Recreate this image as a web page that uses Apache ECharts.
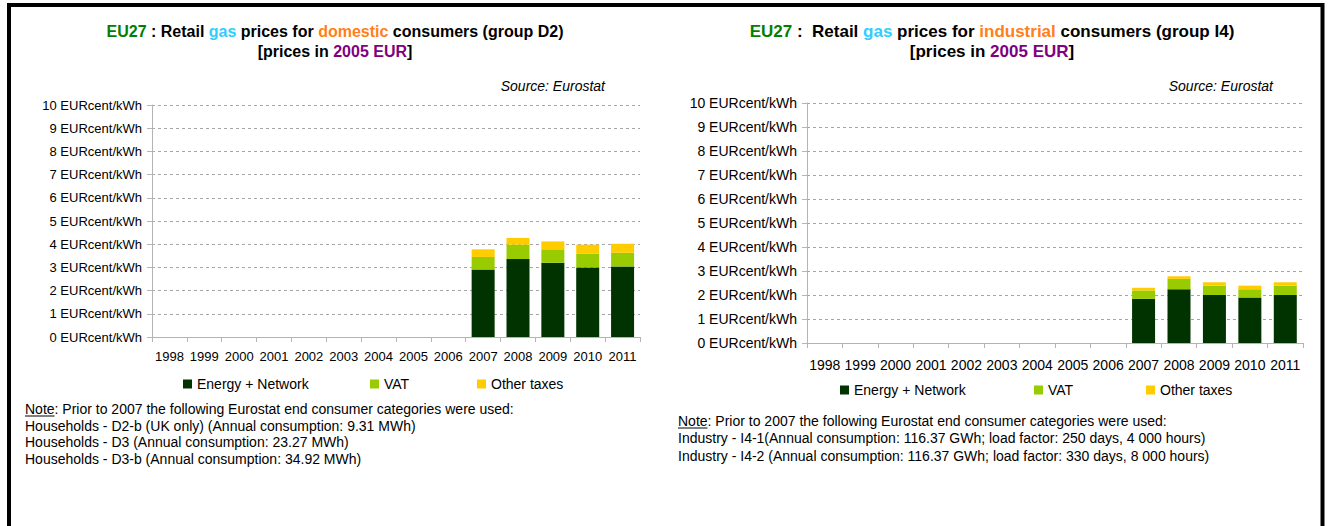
<!DOCTYPE html>
<html>
<head>
<meta charset="utf-8">
<script src="https://cdn.jsdelivr.net/npm/echarts@6/dist/echarts.min.js"></script>
<style>
  html, body { margin: 0; padding: 0; background: #fff; }
  #chart { width: 1330px; height: 526px; }
</style>
</head>
<body>
<div id="chart"></div>
<script>
// Years on the category axis
const years = ['1998', '1999', '2000', '2001', '2002', '2003', '2004', '2005', '2006', '2007', '2008', '2009', '2010', '2011'];

// Domestic consumers (group D2), EURcent/kWh in 2005 EUR
const domEnergy = [null, null, null, null, null, null, null, null, null, 2.91, 3.36, 3.20, 3.00, 3.04];
const domVat    = [null, null, null, null, null, null, null, null, null, 0.54, 0.62, 0.58, 0.60, 0.59];
const domOther  = [null, null, null, null, null, null, null, null, null, 0.33, 0.29, 0.34, 0.38, 0.39];

// Industrial consumers (group I4), EURcent/kWh in 2005 EUR
const indEnergy = [null, null, null, null, null, null, null, null, null, 1.84, 2.24, 2.00, 1.90, 2.00];
const indVat    = [null, null, null, null, null, null, null, null, null, 0.35, 0.43, 0.39, 0.34, 0.39];
const indOther  = [null, null, null, null, null, null, null, null, null, 0.11, 0.11, 0.14, 0.15, 0.14];

const seriesNames = ['Energy + Network', 'VAT', 'Other taxes'];
const seriesColors = ['#003300', '#99cc00', '#ffcc00'];

const domNotes = [
  'Households - D2-b (UK only) (Annual consumption: 9.31 MWh)',
  'Households - D3 (Annual consumption: 23.27 MWh)',
  'Households - D3-b (Annual consumption: 34.92 MWh)'
];
const indNotes = [
  'Industry - I4-1(Annual consumption: 116.37 GWh; load factor: 250 days, 4 000 hours)',
  'Industry - I4-2 (Annual consumption: 116.37 GWh; load factor: 330 days, 8 000 hours)'
];

const FONT = 'Arial, "Liberation Sans", sans-serif';
const chart = echarts.init(document.getElementById('chart'), null, { renderer: 'svg' });

function xAxisFor(gridIndex, size, margin) {
  return {
    type: 'category', gridIndex: gridIndex, data: years,
    axisLine: { lineStyle: { color: '#b4b4b4', width: 1 } },
    axisTick: { show: true, length: 5, lineStyle: { color: '#b4b4b4' } },
    axisLabel: { color: '#000', fontFamily: FONT, fontSize: size, margin: margin, interval: 0 }
  };
}
function yAxisFor(gridIndex, size) {
  return {
    type: 'value', gridIndex: gridIndex, min: 0, max: 10, interval: 1,
    axisLine: { show: true, lineStyle: { color: '#b4b4b4', width: 1 } },
    axisTick: { show: true, length: 5, lineStyle: { color: '#b4b4b4' } },
    axisLabel: { color: '#000', fontFamily: FONT, fontSize: size, margin: 10, formatter: '{value} EURcent/kWh' },
    splitLine: { show: true, lineStyle: { color: '#a6a6a6', type: [3, 3], width: 1 } }
  };
}
function barsFor(axisIndex, stackName, values) {
  return values.map(function (data, i) {
    return {
      name: seriesNames[i], type: 'bar', stack: stackName,
      xAxisIndex: axisIndex, yAxisIndex: axisIndex,
      barWidth: 23, data: data,
      itemStyle: { color: seriesColors[i] }
    };
  });
}
function legendsFor(positions, top) {
  return seriesNames.map(function (name, i) {
    return {
      data: [name], left: positions[i], top: top, padding: 0,
      icon: 'rect', itemWidth: 9, itemHeight: 9, itemGap: 0,
      textStyle: { color: '#000', fontFamily: FONT, fontSize: 14 }
    };
  });
}
function titleText(x, keyword, tail, spacer, size) {
  const f = 'bold ' + size + 'px ' + FONT;
  return [
    {
      type: 'text', x: x, y: 31,
      style: {
        text: '{g|EU27}{k| :' + spacer + 'Retail }{b|gas}{k| prices for }{o|' + keyword + '}{k| consumers (group ' + tail + ')}',
        align: 'center', verticalAlign: 'middle', font: f,
        rich: {
          g: { fill: '#008000', font: f },
          k: { fill: '#000', font: f },
          b: { fill: '#33ccff', font: f },
          o: { fill: '#ff7f1a', font: f }
        }
      }
    },
    {
      type: 'text', x: x, y: 51,
      style: {
        text: '{k|[prices in }{p|2005 EUR}{k|]}',
        align: 'center', verticalAlign: 'middle', font: f,
        rich: {
          k: { fill: '#000', font: f },
          p: { fill: '#800080', font: f }
        }
      }
    }
  ];
}
function noteBlock(x, y0, step, lines) {
  const f = '14px ' + FONT;
  const els = [
    { type: 'text', x: x, y: y0, style: { text: 'Note: Prior to 2007 the following Eurostat end consumer categories were used:', fill: '#000', font: f, verticalAlign: 'middle' } },
    { type: 'line', shape: { x1: x, y1: y0 + 7, x2: x + 29.5, y2: y0 + 7 }, style: { stroke: '#000', lineWidth: 1 } }
  ];
  lines.forEach(function (t, i) {
    els.push({ type: 'text', x: x, y: y0 + step * (i + 1), style: { text: t, fill: '#000', font: f, verticalAlign: 'middle' } });
  });
  return els;
}

const option = {
  animation: false,
  backgroundColor: '#fff',
  grid: [
    { left: 152, right: 690, top: 105, bottom: 189, containLabel: false },
    { left: 807, right: 27, top: 103, bottom: 183, containLabel: false }
  ],
  xAxis: [xAxisFor(0, 13, 13), xAxisFor(1, 14, 15)],
  yAxis: [yAxisFor(0, 13), yAxisFor(1, 14)],
  legend: legendsFor([183, 370, 477], 377).concat(legendsFor([840, 1034, 1146], 383)),
  series: barsFor(0, 'domestic', [domEnergy, domVat, domOther])
    .concat(barsFor(1, 'industrial', [indEnergy, indVat, indOther])),
  graphic: [
    { type: 'polyline', shape: { points: [[9, 526], [9, 5], [1322.5, 5], [1322.5, 526]] }, style: { stroke: '#000', lineWidth: 4, fill: null } }
  ]
    .concat(titleText(335, 'domestic', 'D2', ' ', 16))
    .concat(titleText(992, 'industrial', 'I4', '  ', 17))
    .concat([
      { type: 'text', x: 605, y: 86, style: { text: 'Source: Eurostat', fill: '#000', font: 'italic 14px ' + FONT, align: 'right', verticalAlign: 'middle' } },
      { type: 'text', x: 1273, y: 86, style: { text: 'Source: Eurostat', fill: '#000', font: 'italic 14px ' + FONT, align: 'right', verticalAlign: 'middle' } }
    ])
    .concat(noteBlock(25, 409, 16.7, domNotes))
    .concat(noteBlock(678, 421, 17.3, indNotes))
};

chart.setOption(option);
</script>
</body>
</html>
